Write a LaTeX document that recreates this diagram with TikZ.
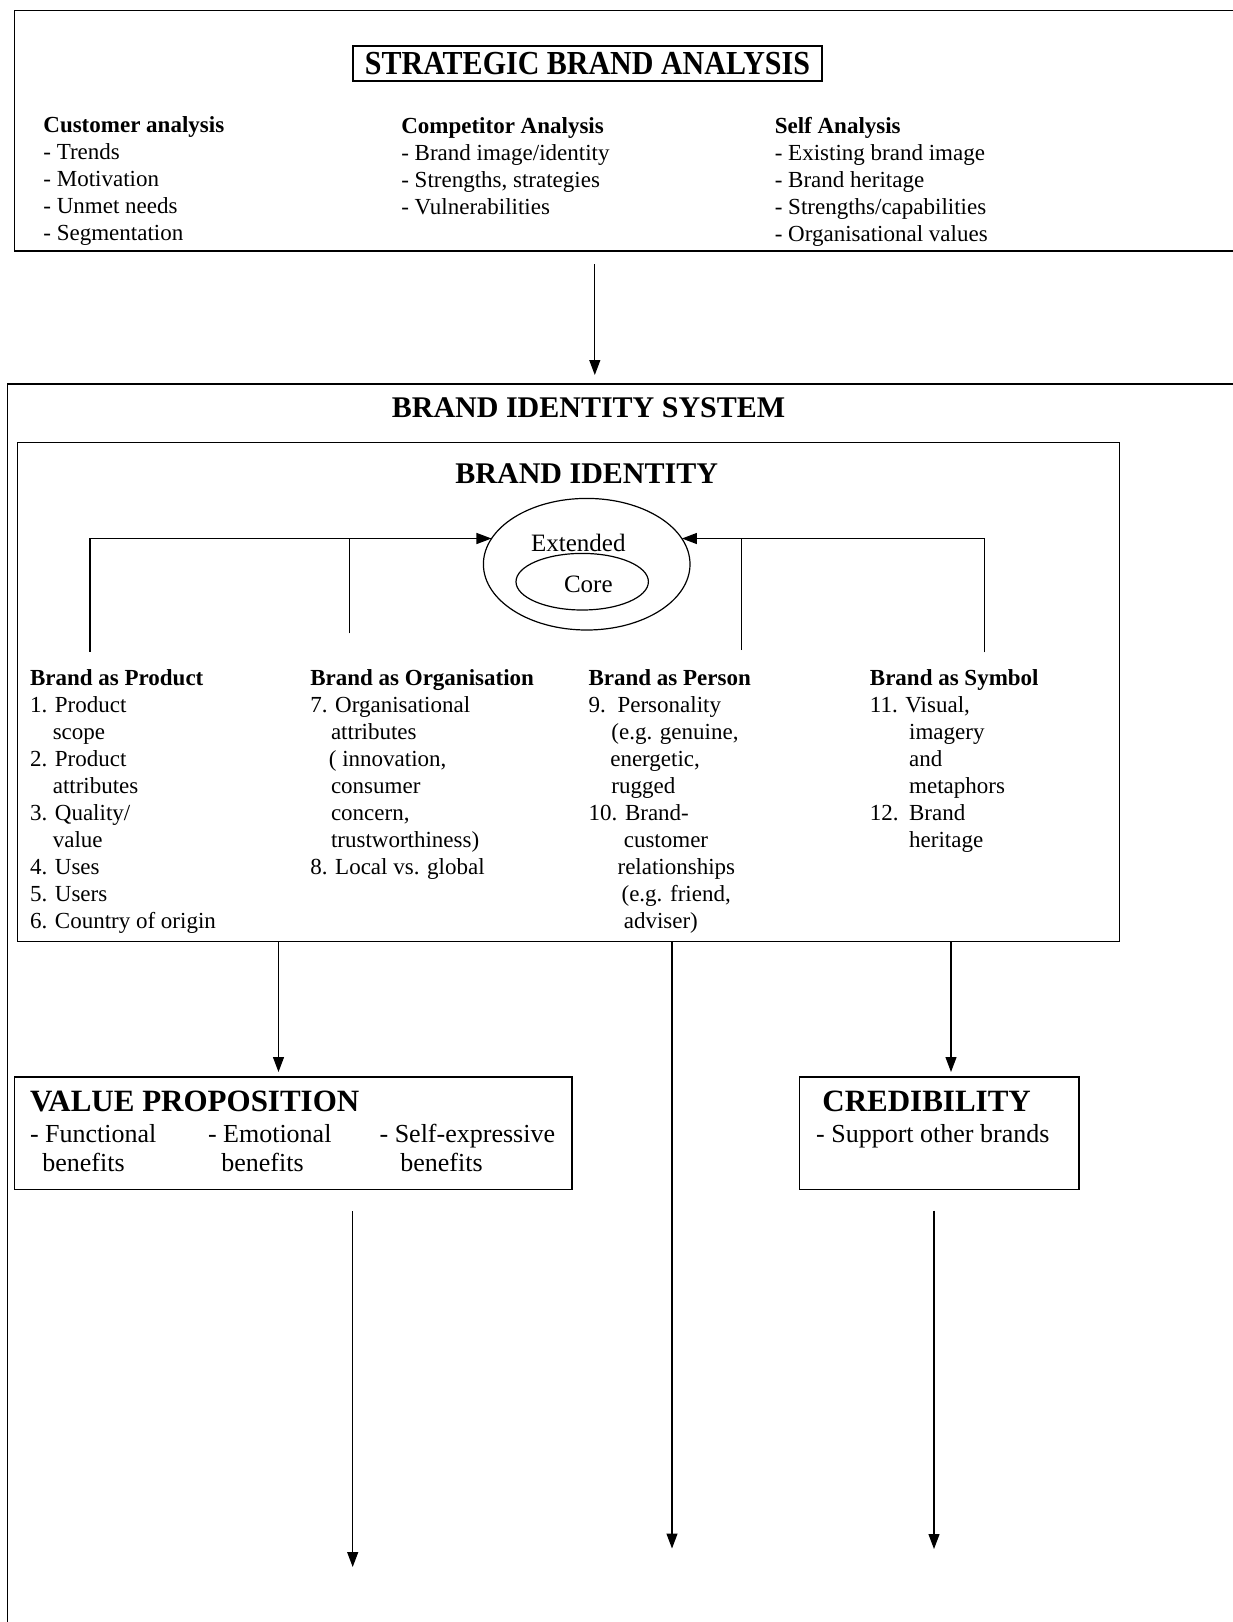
\documentclass[tikz,border=0pt]{standalone}
\usepackage{fontspec}
\usepackage{graphicx}
\setmainfont{Liberation Serif}
\usetikzlibrary{arrows.meta,shapes.geometric}

\begin{document}
\begin{tikzpicture}[x=1pt,y=-1pt,
  every node/.style={inner sep=0pt, outer sep=0pt},
  panel/.style={draw, line width=1.3pt, rectangle, anchor=north west},
  body/.style={anchor=north west, align=left, font=\fontsize{23}{27}\selectfont},
  vpbody/.style={anchor=north west, align=left, font=\fontsize{26}{29}\selectfont},
  heading/.style={font=\bfseries\fontsize{30}{34}\selectfont},
  bighead/.style={anchor=west, font=\bfseries\fontsize{31}{36}\selectfont},
  ringtext/.style={font=\fontsize{25}{30}\selectfont},
  ring/.style={draw, ellipse, line width=1.2pt},
  arr/.style={line width=1.2pt, -{Triangle[length=15pt,width=11pt]}},
  wire/.style={line width=1.2pt}]

\useasboundingbox (0,0) rectangle (1232,1622);

% ---------- strategic brand analysis ----------
\node[panel, minimum width=1240pt, minimum height=240.5pt] (sba) at (14.3,10.5) {};
\node[draw, line width=1.3pt, minimum width=469pt, minimum height=35pt,
      font=\bfseries\fontsize{30}{34}\selectfont] (sbatitle) at (587.5,63.5)
      {\scalebox{1}[1.12]{STRATEGIC BRAND ANALYSIS}};

\node[body] (cust) at (43.4,116.4)
  {\textbf{Customer analysis}\\- Trends\\- Motivation\\- Unmet needs\\- Segmentation};
\node[body] (comp) at (401.3,117.4)
  {\textbf{Competitor Analysis}\\- Brand image/identity\\- Strengths, strategies\\- Vulnerabilities};
\node[body] (self) at (774.8,117.4)
  {\textbf{Self Analysis}\\- Existing brand image\\- Brand heritage\\- Strengths/capabilities\\- Organisational values};

% ---------- brand identity system ----------
\node[panel, minimum width=1260pt, minimum height=1300pt] (bis) at (7.5,384) {};
\node[heading] (bistitle) at (588.6,408) {BRAND IDENTITY SYSTEM};

\coordinate (a1) at (594.8,0);
\draw[arr, shorten <=13pt, shorten >=9pt] (a1 |- sba.south) -- (a1 |- bis.north);

\node[panel, minimum width=1101.6pt, minimum height=499pt] (bid) at (17.7,442.5) {};
\node[heading] (bidtitle) at (586.7,473.3) {BRAND IDENTITY};

% extended / core identity
\node[ring, minimum width=206.6pt, minimum height=131.6pt] (ext) at (586.7,564.2) {};
\node[ringtext] (extlbl) at (578.3,542.7) {Extended};
\node[ring, minimum width=132.4pt, minimum height=56.6pt] (core) at (582.2,581.7) {};
\node[ringtext] (corelbl) at (588.3,584.3) {Core};

% feeders into the identity rings
\coordinate (p1) at (90,651.7);
\coordinate (p2) at (349.3,633.3);
\coordinate (p3) at (741.7,650);
\coordinate (p4) at (984.3,652.3);
\coordinate (busL) at (90,538.5);
\coordinate (busR) at (984.3,538.5);
\draw[arr] (p1) -- (busL) -- (busL -| ext.165);
\draw[wire] (p2) -- (p2 |- busL);
\draw[arr] (p4) -- (busR) -- (busR -| ext.15);
\draw[wire] (p3) -- (p3 |- busR);

% the four perspectives
\node[body] (prod) at (30,669.5)
  {\textbf{Brand as Product}\\1. Product\\\hspace*{22.8pt}scope\\2. Product\\\hspace*{22.8pt}attributes\\3. Quality/\\\hspace*{22.8pt}value\\4. Uses\\5. Users\\6. Country of origin};
\node[body] (org) at (310.3,669.5)
  {\textbf{Brand as Organisation}\\7. Organisational\\\hspace*{20.7pt}attributes\\\hspace*{18.6pt}( innovation,\\\hspace*{20.7pt}consumer\\\hspace*{20.7pt}concern,\\\hspace*{20.7pt}trustworthiness)\\8. Local vs. global};
\node[body] (pers) at (588.6,669.5)
  {\textbf{Brand as Person}\\9.\hspace*{11.7pt}Personality\\\hspace*{22.8pt}(e.g. genuine,\\\hspace*{21.7pt}energetic,\\\hspace*{22.8pt}rugged\\10. Brand-\\\hspace*{35.2pt}customer\\\hspace*{29pt}relationships\\\hspace*{33pt}(e.g. friend,\\\hspace*{35.2pt}adviser)};
\node[body] (symb) at (869.9,669.5)
  {\textbf{Brand as Symbol}\\11. Visual,\\\hspace*{39.3pt}imagery\\\hspace*{39.3pt}and\\\hspace*{39.3pt}metaphors\\12.\hspace*{10.5pt}Brand\\\hspace*{39.3pt}heritage};

% ---------- value proposition & credibility ----------
\node[panel, minimum width=557.7pt, minimum height=112.5pt] (vp) at (14.3,1077) {};
\node[bighead] (vptitle) at (30,1101.6) {VALUE PROPOSITION};
\node[vpbody] (vpf) at (30,1124) {- Functional\\\hspace*{12.4pt}benefits};
\node[vpbody] (vpe) at (208,1124) {- Emotional\\\hspace*{13.4pt}benefits};
\node[vpbody] (vps) at (379.6,1124) {- Self-expressive\\\hspace*{20.7pt}benefits};

\node[panel, minimum width=279.3pt, minimum height=112.5pt] (cred) at (799.7,1077) {};
\node[bighead] (credtitle) at (822.4,1101.6) {CREDIBILITY};
\node[vpbody] (credsup) at (816.2,1124) {- Support other brands};

\coordinate (d1) at (278.5,0);
\coordinate (d2) at (672,1548.5);
\coordinate (d3) at (951,0);
\draw[arr, shorten >=5pt] (d1 |- bid.south) -- (d1 |- vp.north);
\draw[arr] (d2 |- bid.south) -- (d2);
\draw[arr, shorten >=5pt] (d3 |- bid.south) -- (d3 |- cred.north);

\coordinate (e1) at (352.7,1567);
\coordinate (e3) at (934,1549);
\draw[arr, shorten <=21.5pt] (e1 |- vp.south) -- (e1);
\draw[arr, shorten <=21pt] (e3 |- cred.south) -- (e3);

\end{tikzpicture}
\end{document}
